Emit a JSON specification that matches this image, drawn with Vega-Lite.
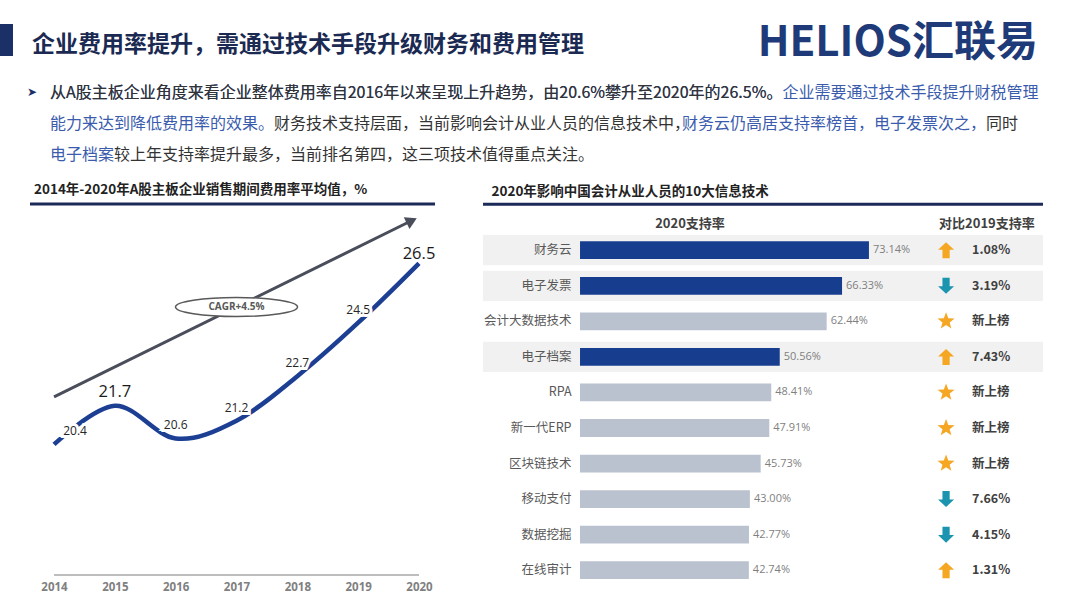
{
  "$schema": "https://vega.github.io/schema/vega-lite/v6.json",
  "background": "white",
  "padding": 0,
  "columns": 4,
  "spacing": 0,
  "bounds": "flush",
  "align": {"row": "each", "column": "each"},
  "config": {
    "view": {"stroke": null},
    "font": "Noto Sans CJK SC",
    "title": {"font": "Noto Sans CJK SC"},
    "text": {"font": "Noto Sans CJK SC"}
  },
  "datasets": {
    "rates": [
      {"year": 2014, "value": 20.4},
      {"year": 2015, "value": 21.7},
      {"year": 2016, "value": 20.6},
      {"year": 2017, "value": 21.2},
      {"year": 2018, "value": 22.7},
      {"year": 2019, "value": 24.5},
      {"year": 2020, "value": 26.5}
    ],
    "tech": [
      {"tech": "财务云", "rate": 0.7314, "hl": "yes", "trend": "up", "delta": "1.08%"},
      {"tech": "电子发票", "rate": 0.6633, "hl": "yes", "trend": "down", "delta": "3.19%"},
      {"tech": "会计大数据技术", "rate": 0.6244, "hl": "no", "trend": "new", "delta": "新上榜"},
      {"tech": "电子档案", "rate": 0.5056, "hl": "yes", "trend": "up", "delta": "7.43%"},
      {"tech": "RPA", "rate": 0.4841, "hl": "no", "trend": "new", "delta": "新上榜"},
      {"tech": "新一代ERP", "rate": 0.4791, "hl": "no", "trend": "new", "delta": "新上榜"},
      {"tech": "区块链技术", "rate": 0.4573, "hl": "no", "trend": "new", "delta": "新上榜"},
      {"tech": "移动支付", "rate": 0.43, "hl": "no", "trend": "down", "delta": "7.66%"},
      {"tech": "数据挖掘", "rate": 0.4277, "hl": "no", "trend": "down", "delta": "4.15%"},
      {"tech": "在线审计", "rate": 0.4274, "hl": "no", "trend": "up", "delta": "1.31%"}
    ]
  },
  "concat": [
    {"width": 1, "height": 24, "data": {"values": [{}]}, "mark": {"type": "point", "opacity": 0, "size": 0}, "encoding": {}},
    {"width": 1, "height": 24, "data": {"values": [{}]}, "mark": {"type": "point", "opacity": 0, "size": 0}, "encoding": {}},
    {"width": 1, "height": 24, "data": {"values": [{}]}, "mark": {"type": "point", "opacity": 0, "size": 0}, "encoding": {}},
    {"width": 1, "height": 24, "data": {"values": [{}]}, "mark": {"type": "point", "opacity": 0, "size": 0}, "encoding": {}},

    {"width": 13, "height": 32, "view": {"fill": "#1c3068"}, "data": {"values": [{}]}, "mark": {"type": "point", "opacity": 0, "size": 0}, "encoding": {}},
    {"width": 405, "height": 32, "data": {"values": [{}]}, "mark": {"type": "point", "opacity": 0, "size": 0}, "encoding": {},
     "title": {"text": "企业费用率提升，需通过技术手段升级财务和费用管理", "anchor": "start", "dx": 2, "offset": -32.5, "fontSize": 23, "fontWeight": "bold", "color": "#1b2a52"}},
    {"width": 48, "height": 32, "data": {"values": [{}]}, "mark": {"type": "point", "opacity": 0, "size": 0}, "encoding": {}},
    {"width": 560, "height": 32, "data": {"values": [{}]}, "mark": {"type": "point", "opacity": 0, "size": 0}, "encoding": {},
     "title": {"text": "HELIOS汇联易", "anchor": "end", "dx": -5, "offset": -41, "fontSize": 42, "fontWeight": "bold", "color": "#1e3a78"}},

    {"width": 30, "height": 1, "data": {"values": [{}]}, "mark": {"type": "point", "opacity": 0, "size": 0}, "encoding": {},
     "title": {"text": "➤", "anchor": "end", "dx": 7, "offset": -43, "fontSize": 12, "fontWeight": "normal", "font": "DejaVu Sans", "color": "#1c3068"}},
    {"width": 405, "height": 1, "data": {"values": [{}]}, "mark": {"type": "point", "opacity": 0, "size": 0}, "encoding": {},
     "title": {
       "text": [
         "从A股主板企业角度来看企业整体费用率自2016年以来呈现上升趋势，由20.6%攀升至2020年的26.5%。企业需要通过技术手段提升财税管理",
         "能力来达到降低费用率的效果。\u3000\u3000\u3000\u3000\u3000\u3000\u3000\u3000\u3000\u3000\u3000\u3000\u3000\u3000\u3000\u3000\u3000\u3000\u3000\u3000\u3000\u3000\u3000\u3000\u3000\u3000财务云仍高居支持率榜首，电子发票次之，",
         "电子档案"
       ],
       "anchor": "start", "dx": 20, "offset": -107, "fontSize": 16, "lineHeight": 31, "fontWeight": "normal", "color": "#3b5cad"
     }},
    {"width": 48, "height": 1, "data": {"values": [{}]}, "mark": {"type": "point", "opacity": 0, "size": 0}, "encoding": {}},
    {"width": 560, "height": 1, "data": {"values": [{}]}, "mark": {"type": "point", "opacity": 0, "size": 0}, "encoding": {}},

    {"width": 30, "height": 147, "data": {"values": [{}]}, "mark": {"type": "point", "opacity": 0, "size": 0}, "encoding": {}},
    {"width": 405, "height": 147, "data": {"values": [{}]}, "mark": {"type": "point", "opacity": 0, "size": 0}, "encoding": {},
     "title": {
       "text": [
         "从A股主板企业角度来看企业整体费用率自2016年以来呈现上升趋势，由20.6%攀升至2020年的26.5%。",
         "\u200b\u3000\u3000\u3000\u3000\u3000\u3000\u3000\u3000\u3000\u3000\u3000\u3000\u3000\u3000财务技术支持层面，当前影响会计从业人员的信息技术中，\u3000\u3000\u3000\u3000\u3000\u3000\u3000\u3000\u3000\u3000\u3000\u3000\u3000\u3000\u3000\u3000\u3000\u3000\u3000同时",
         "\u200b\u3000\u3000\u3000\u3000较上年支持率提升最多，当前排名第四，这三项技术值得重点关注。"
       ],
       "anchor": "start", "dx": 20, "offset": -106, "fontSize": 16, "lineHeight": 31, "fontWeight": "normal", "color": "#333333"
     }},
    {"width": 48, "height": 147, "data": {"values": [{}]}, "mark": {"type": "point", "opacity": 0, "size": 0}, "encoding": {}},
    {"width": 560, "height": 147, "data": {"values": [{}]}, "mark": {"type": "point", "opacity": 0, "size": 0}, "encoding": {}},

    {"width": 30, "height": 1, "data": {"values": [{}]}, "mark": {"type": "point", "opacity": 0, "size": 0}, "encoding": {}},
    {
      "width": 405,
      "height": 371,
      "title": {"text": "2014年-2020年A股主板企业销售期间费用率平均值，%", "anchor": "start", "dx": 10, "offset": 2, "fontSize": 13.5, "fontWeight": "bold", "color": "#222222"},
      "data": {"name": "rates"},
      "encoding": {
        "x": {"field": "year", "type": "quantitative", "scale": {"domain": [2013.605, 2020.263], "nice": false, "zero": false},
              "axis": {"values": [2014, 2015, 2016, 2017, 2018, 2019, 2020], "format": "d", "domain": false, "ticks": false, "tickSize": 0, "grid": false, "labelColor": "#808080", "labelFontSize": 11.5, "labelFontWeight": "bold", "labelFont": "Open Sans", "labelPadding": 6, "labelFlush": false, "title": null}},
        "y": {"field": "value", "type": "quantitative", "scale": {"domain": [16, 28.5], "nice": false, "zero": false}, "axis": null}
      },
      "layer": [
        {"data": {"values": [{"year": 2013.605, "value": 28.5}, {"year": 2020.263, "value": 28.5}]},
         "mark": {"type": "line", "color": "#1c2a5a", "strokeWidth": 3}},
        {"data": {"values": [{"year": 2014, "value": 16}, {"year": 2020, "value": 16}]},
         "mark": {"type": "line", "color": "#bdbdbd", "strokeWidth": 2}},
        {"data": {"values": [{"year": 2014, "value": 22.0}, {"year": 2019.85, "value": 27.91}]},
         "mark": {"type": "line", "color": "#4a4d5a", "strokeWidth": 3}},
        {"data": {"values": [{"year": 2019.88, "value": 27.94}]},
         "mark": {"type": "point", "shape": "triangle-right", "filled": true, "color": "#4a4d5a", "size": 170, "angle": 333.8, "opacity": 1}},
        {"data": {"values": [{"year": 2017, "value": 25.03}]},
         "mark": {"type": "point", "shape": "M-1,0C-1,-0.086,-0.552,-0.156,0,-0.156C0.552,-0.156,1,-0.086,1,0C1,0.086,0.552,0.156,0,0.156C-0.552,0.156,-1,0.086,-1,0Z", "size": 14884, "fill": "white", "stroke": "#595959", "strokeWidth": 1.5, "opacity": 1, "filled": false, "fillOpacity": 1}},
        {"data": {"values": [{"year": 2017, "value": 25.03}]},
         "mark": {"type": "text", "text": "CAGR+4.5%", "font": "Open Sans", "fontSize": 10, "fontWeight": "bold", "color": "#595959"}},
        {"mark": {"type": "line", "interpolate": "cardinal", "color": "#1c3f94", "strokeWidth": 4.5}},
        {"transform": [{"filter": "datum.value == 20.4"}],
         "mark": {"type": "text", "font": "Open Sans", "fontSize": 12, "dx": 21, "dy": -13, "fill": "white", "stroke": "white", "strokeWidth": 6},
         "encoding": {"text": {"field": "value", "type": "quantitative", "format": ".1f"}}},
        {"transform": [{"filter": "datum.value == 20.4"}],
         "mark": {"type": "text", "font": "Open Sans", "fontSize": 12, "dx": 21, "dy": -13, "color": "#262626"},
         "encoding": {"text": {"field": "value", "type": "quantitative", "format": ".1f"}}},
        {"transform": [{"filter": "datum.value == 20.6 || datum.value == 21.2 || datum.value == 22.7 || datum.value == 24.5"}],
         "mark": {"type": "text", "font": "Open Sans", "fontSize": 12, "dy": -13, "fill": "white", "stroke": "white", "strokeWidth": 6},
         "encoding": {"text": {"field": "value", "type": "quantitative", "format": ".1f"}}},
        {"transform": [{"filter": "datum.value == 20.6 || datum.value == 21.2 || datum.value == 22.7 || datum.value == 24.5"}],
         "mark": {"type": "text", "font": "Open Sans", "fontSize": 12, "dy": -13, "color": "#262626"},
         "encoding": {"text": {"field": "value", "type": "quantitative", "format": ".1f"}}},
        {"transform": [{"filter": "datum.value == 21.7"}],
         "mark": {"type": "text", "font": "Open Sans", "fontSize": 16.5, "dy": -14, "color": "#1a1a1a"},
         "encoding": {"text": {"field": "value", "type": "quantitative", "format": ".1f"}}},
        {"transform": [{"filter": "datum.value == 26.5"}],
         "mark": {"type": "text", "font": "Open Sans", "fontSize": 16.5, "dy": -9, "fill": "white", "stroke": "white", "strokeWidth": 5},
         "encoding": {"text": {"field": "value", "type": "quantitative", "format": ".1f"}}},
        {"transform": [{"filter": "datum.value == 26.5"}],
         "mark": {"type": "text", "font": "Open Sans", "fontSize": 16.5, "dy": -9, "color": "#1a1a1a"},
         "encoding": {"text": {"field": "value", "type": "quantitative", "format": ".1f"}}}
      ]
    },
    {"width": 48, "height": 1, "data": {"values": [{}]}, "mark": {"type": "point", "opacity": 0, "size": 0}, "encoding": {}},
    {
      "width": 560,
      "height": 384,
      "title": {"text": "2020年影响中国会计从业人员的10大信息技术", "anchor": "start", "dx": 10, "offset": 4, "fontSize": 13.5, "fontWeight": "bold", "color": "#222222"},
      "data": {"name": "tech"},
      "encoding": {
        "y": {"field": "tech", "type": "nominal", "sort": null,
              "scale": {"domain": ["财务云", "电子发票", "会计大数据技术", "电子档案", "RPA", "新一代ERP", "区块链技术", "移动支付", "数据挖掘", "在线审计"], "paddingInner": 0, "paddingOuter": 0.4, "align": 1},
              "axis": null}
      },
      "layer": [
        {"data": {"values": [{}]},
         "mark": {"type": "rule", "color": "#1c2a5a", "strokeWidth": 3, "yOffset": -46},
         "encoding": {
           "x": {"datum": -0.2456, "type": "quantitative", "scale": {"domain": [-0.2456, 1.172], "nice": false, "zero": false}, "axis": null},
           "x2": {"datum": 1.172},
           "y": {"datum": "财务云", "type": "nominal", "axis": null}
         }},
        {"transform": [{"filter": "datum.hl == 'yes'"}],
         "mark": {"type": "bar", "color": "#f1f1f1", "height": {"band": 0.85}},
         "encoding": {
           "x": {"datum": -0.2456, "type": "quantitative", "scale": {"domain": [-0.2456, 1.172], "nice": false, "zero": false}, "axis": null},
           "x2": {"datum": 1.172}
         }},
        {"mark": {"type": "bar", "height": {"band": 0.5}},
         "encoding": {
           "x": {"field": "rate", "type": "quantitative", "scale": {"domain": [-0.2456, 1.172], "nice": false, "zero": false}, "axis": null},
           "x2": {"datum": 0},
           "color": {"field": "hl", "type": "nominal", "scale": {"domain": ["yes", "no"], "range": ["#173d8f", "#bac1cf"]}, "legend": null}
         }},
        {"mark": {"type": "text", "align": "left", "baseline": "middle", "dx": 4, "font": "Open Sans", "fontSize": 11, "color": "#7f7f7f"},
         "encoding": {
           "x": {"field": "rate", "type": "quantitative", "scale": {"domain": [-0.2456, 1.172], "nice": false, "zero": false}, "axis": null},
           "text": {"field": "rate", "type": "quantitative", "format": ".2%"}
         }},
        {"mark": {"type": "text", "align": "right", "baseline": "middle", "fontSize": 12.5, "color": "#595959"},
         "encoding": {
           "x": {"datum": -0.0215, "type": "quantitative", "axis": null},
           "text": {"field": "tech", "type": "nominal"}
         }},
        {"transform": [{"filter": "datum.trend == 'up'"}],
         "mark": {"type": "point", "shape": "M0,-1L1,-0.05L0.45,-0.05L0.45,1L-0.45,1L-0.45,-0.05L-1,-0.05Z", "filled": true, "color": "#f5a623", "size": 256, "opacity": 1},
         "encoding": {"x": {"datum": 0.9266, "type": "quantitative", "axis": null}}},
        {"transform": [{"filter": "datum.trend == 'down'"}],
         "mark": {"type": "point", "shape": "M0,1L1,0.05L0.45,0.05L0.45,-1L-0.45,-1L-0.45,0.05L-1,0.05Z", "filled": true, "color": "#1b94b0", "size": 256, "opacity": 1},
         "encoding": {"x": {"datum": 0.9266, "type": "quantitative", "axis": null}}},
        {"transform": [{"filter": "datum.trend == 'new'"}],
         "mark": {"type": "point", "shape": "M0,-1L0.247,-0.34L0.951,-0.309L0.399,0.13L0.588,0.809L0,0.42L-0.588,0.809L-0.399,0.13L-0.951,-0.309L-0.247,-0.34Z", "filled": true, "color": "#f5a623", "size": 324, "opacity": 1},
         "encoding": {"x": {"datum": 0.9266, "type": "quantitative", "axis": null}}},
        {"mark": {"type": "text", "align": "left", "baseline": "middle", "fontSize": 12.5, "fontWeight": "bold", "color": "#404040"},
         "encoding": {
           "x": {"datum": 0.9924, "type": "quantitative", "axis": null},
           "text": {"field": "delta", "type": "nominal"}
         }},
        {"data": {"values": [{}]},
         "mark": {"type": "text", "text": "2020支持率", "baseline": "middle", "dy": -26, "fontSize": 13, "fontWeight": "bold", "color": "#404040"},
         "encoding": {"x": {"datum": 0.2785, "type": "quantitative", "axis": null}, "y": {"datum": "财务云", "type": "nominal", "axis": null}}},
        {"data": {"values": [{}]},
         "mark": {"type": "text", "text": "对比2019支持率", "baseline": "middle", "dy": -26, "fontSize": 13, "fontWeight": "bold", "color": "#404040"},
         "encoding": {"x": {"datum": 1.03, "type": "quantitative", "axis": null}, "y": {"datum": "财务云", "type": "nominal", "axis": null}}}
      ]
    }
  ]
}
